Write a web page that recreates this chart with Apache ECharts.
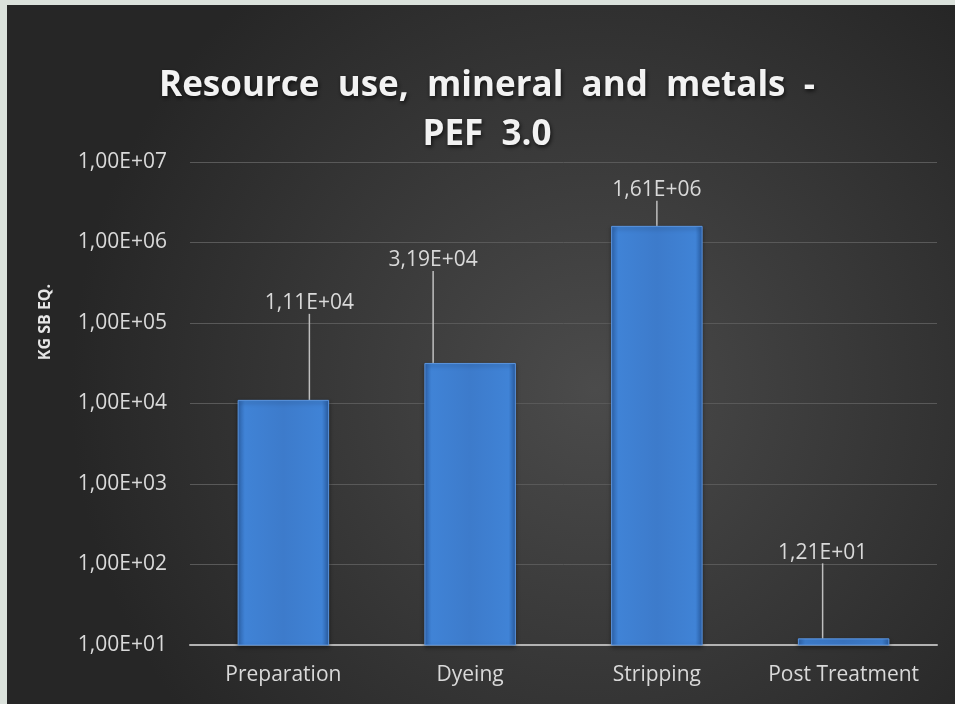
<!DOCTYPE html>
<html>
<head>
    <meta charset="utf-8">
    <title>Resource use, mineral and metals - PEF 3.0</title>
    <script src="https://cdn.jsdelivr.net/npm/echarts@6/dist/echarts.min.js"></script>
    <style>
        html, body { margin: 0; padding: 0; background: #dbe2dc; }
        #chart { width: 955px; height: 704px; }
    </style>
</head>
<body>
<div id="chart"></div>
<script type="text/javascript">
    // data
    var categories = ['Preparation', 'Dyeing', 'Stripping', 'Post Treatment'];
    var values = [11100, 31900, 1610000, 12.1];
    // label offsets (px) from the default top position
    var labelShift = [[26, -81], [-37, -87], [0, -20], [-21, -70]];

    // 10000 -> "1,00E+04"
    function sci(v) {
        var e = Math.floor(Math.log10(v) + 1e-9);
        var m = v / Math.pow(10, e);
        var s = m.toFixed(2).replace('.', ',');
        var es = (e < 0 ? '-' : '+') + (Math.abs(e) < 10 ? '0' : '') + Math.abs(e);
        return s + 'E' + es;
    }

    var myChart = echarts.init(document.getElementById('chart'));
    myChart.setOption({
        backgroundColor: 'transparent',
        textStyle: { fontFamily: 'Open Sans' },
        graphic: [{
            type: 'rect',
            z: -10,
            silent: true,
            shape: { x: 7, y: 5, width: 948, height: 699 },
            style: {
                fill: new echarts.graphic.RadialGradient(0.62, 0.55, 0.75, [
                    { offset: 0, color: '#4b4b4b' },
                    { offset: 1, color: '#262626' }
                ])
            }
        }, {
            // y axis title, sits a bit above the axis middle like the original
            type: 'text',
            x: 45,
            y: 322,
            rotation: Math.PI / 2,
            style: {
                text: 'KG SB EQ.',
                fill: '#e6e6e6',
                font: 'bold 16px "Open Sans"',
                align: 'center',
                verticalAlign: 'middle'
            }
        }],
        title: {
            text: 'Resource  use,  mineral  and  metals  -\nPEF  3.0',
            left: 482,
            top: 57,
            textAlign: 'center',
            textStyle: {
                color: '#f2f2f2',
                fontSize: 35,
                fontWeight: 'bold',
                fontFamily: 'Open Sans',
                lineHeight: 49,
                textShadowColor: 'rgba(0,0,0,0.7)',
                textShadowBlur: 4,
                textShadowOffsetX: 1,
                textShadowOffsetY: 2
            }
        },
        grid: { left: 190, right: 18, top: 162, bottom: 59 },
        xAxis: {
            type: 'category',
            data: categories,
            axisLine: { lineStyle: { color: '#b3b3b3', width: 2 } },
            axisTick: { show: false },
            axisLabel: { color: '#d9d9d9', fontSize: 21, margin: 20, interval: 0 }
        },
        yAxis: {
            type: 'log',
            logBase: 10,
            min: 10,
            max: 10000000,
            axisLine: { show: false },
            axisTick: { show: false },
            splitLine: { lineStyle: { color: '#595959', width: 1 } },
            axisLabel: {
                color: '#d9d9d9',
                fontSize: 21,
                margin: 23,
                formatter: function (v) { return sci(v); }
            }
        },
        series: [{
            type: 'bar',
            barWidth: '49%',
            data: values,
            itemStyle: {
                color: new echarts.graphic.LinearGradient(0, 0, 1, 0, [
                    { offset: 0, color: '#2f66b0' },
                    { offset: 0.08, color: '#4083d6' },
                    { offset: 0.5, color: '#3d7bcb' },
                    { offset: 0.92, color: '#4083d6' },
                    { offset: 1, color: '#2a5fa6' }
                ]),
                borderColor: '#5b95e0',
                borderWidth: 1,
                shadowColor: 'rgba(0,0,0,0.4)',
                shadowBlur: 4,
                shadowOffsetY: 2
            },
            label: {
                show: true,
                position: 'top',
                color: '#d9d9d9',
                fontSize: 21,
                formatter: function (p) { return sci(p.value); }
            },
            labelLine: {
                show: true,
                lineStyle: { color: '#bfbfbf', width: 1.5 }
            },
            labelLayout: function (p) {
                var s = labelShift[p.dataIndex];
                return { dx: s[0], dy: s[1] };
            }
        }]
    });
</script>
</body>
</html>
